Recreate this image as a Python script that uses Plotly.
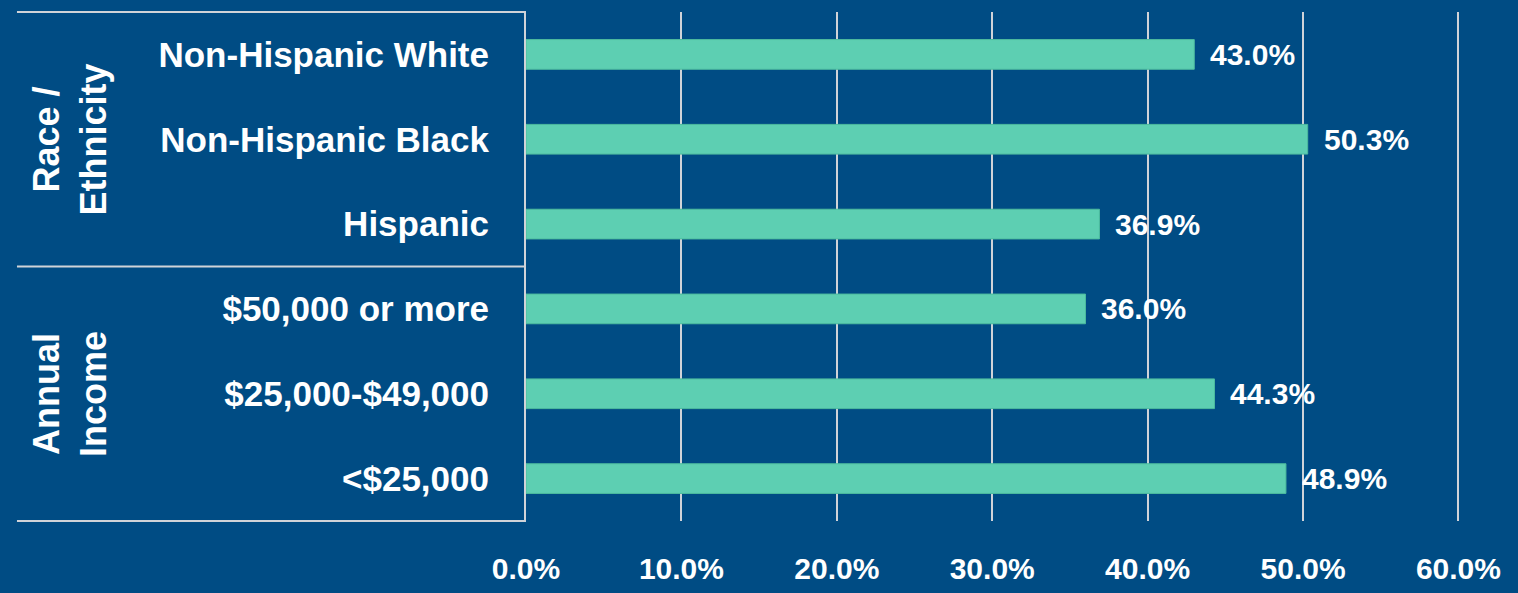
import plotly.graph_objects as go

# data
categories = ["Non-Hispanic White", "Non-Hispanic Black", "Hispanic",
              "$50,000 or more", "$25,000-$49,000", "<$25,000"]
values = [43.0, 50.3, 36.9, 36.0, 44.3, 48.9]
group_labels = ["Race /<br>Ethnicity", "Annual<br>Income"]
tick_vals = [0, 10, 20, 30, 40, 50, 60]
tick_text = ["0.0%", "10.0%", "20.0%", "30.0%", "40.0%", "50.0%", "60.0%"]

BG = "#004C84"
BAR = "#5DCFB2"
LINE = "#D0D3D8"
FONT = "Liberation Sans, Arial"

fig = go.Figure()

fig.add_trace(go.Bar(
    x=values,
    y=categories,
    orientation="h",
    marker=dict(color=BAR, line=dict(color="#4DBB9E", width=1)),
    width=0.35,
    hoverinfo="skip",
))

# value labels to the right of each bar
for cat, val in zip(categories, values):
    fig.add_annotation(
        x=val, y=cat,
        text=f"{val:.1f}%",
        showarrow=False,
        xanchor="left",
        yanchor="middle",
        xshift=14,
        font=dict(size=30, color="white", family=FONT, weight="bold"),
    )

# left table lines
for yy in [0, 0.5, 1]:
    fig.add_shape(
        type="line", xref="paper", yref="paper",
        x0=-0.545, x1=0, y0=yy, y1=yy,
        line=dict(color=LINE, width=2),
    )

# group labels (rotated)
for i, lab in enumerate(group_labels):
    fig.add_annotation(
        xref="paper", yref="paper",
        x=-0.488, y=0.75 - 0.5 * i,
        text=lab,
        textangle=-90,
        showarrow=False,
        xanchor="center", yanchor="middle",
        font=dict(size=36, color="white", family=FONT, weight="bold"),
    )

fig.update_layout(
    width=1518,
    height=593,
    paper_bgcolor=BG,
    plot_bgcolor=BG,
    margin=dict(l=526, r=58, t=12, b=72),
    showlegend=False,
    font=dict(family=FONT, color="white", weight="bold"),
    xaxis=dict(
        range=[0, 60.1],
        tickvals=tick_vals,
        ticktext=tick_text,
        showgrid=True,
        gridcolor=LINE,
        gridwidth=2,
        zeroline=False,
        showline=False,
        ticks="outside",
        ticklen=21,
        tickcolor=BG,
        tickfont=dict(size=30, color="white", family=FONT, weight="bold"),
        automargin=False,
        fixedrange=True,
    ),
    yaxis=dict(
        autorange="reversed",
        showgrid=False,
        showline=True,
        linecolor=LINE,
        linewidth=2,
        ticks="",
        ticklabelstandoff=28,
        tickfont=dict(size=35, color="white", family=FONT, weight="bold"),
        automargin=False,
        fixedrange=True,
    ),
)

fig.write_html("out.html", config={"displayModeBar": False},
               post_script="document.body.style.margin='0';")
